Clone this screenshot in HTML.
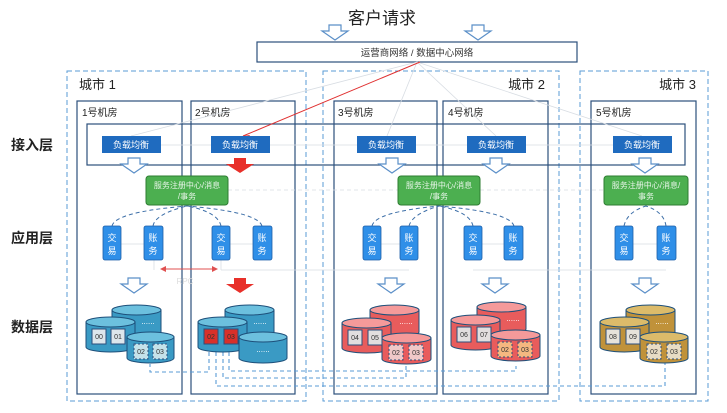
<!DOCTYPE html>
<html><head><meta charset="utf-8"><style>
html,body{margin:0;padding:0;background:#fff;}
svg{display:block;font-family:"Liberation Sans","Noto Sans CJK SC",sans-serif;}
</style></head><body>
<svg width="727" height="413" viewBox="0 0 727 413" xmlns="http://www.w3.org/2000/svg">
<defs>
<path id="ha" d="M-6 0 h12 v6 h7 l-13 9 l-13 -9 h7 z" fill="#fff" stroke="#5b8fc8" stroke-width="1.2"/>
<path id="ra" d="M-6 0 h12 v6 h8 l-14 9 l-14 -9 h8 z" fill="#e8302a"/>
</defs>
<text x="382" y="24" font-size="17" text-anchor="middle" fill="#222">客户请求</text>
<use href="#ha" x="335" y="25"/><use href="#ha" x="478" y="25"/>
<rect x="257" y="42" width="320" height="20" fill="#fff" stroke="#2c4f7c" stroke-width="1.2"/>
<text x="417" y="56" font-size="9.5" text-anchor="middle" fill="#333">运营商网络 / 数据中心网络</text>
<!-- cities -->
<g fill="none" stroke="#5a9bd5" stroke-width="1" stroke-dasharray="5,3">
<rect x="67" y="71" width="239" height="330"/>
<rect x="323" y="71" width="236" height="330"/>
<rect x="580" y="71" width="128" height="330"/>
</g>
<text x="79" y="89" font-size="13" fill="#222">城市 1</text>
<text x="545" y="89" font-size="13" fill="#222" text-anchor="end">城市 2</text>
<text x="696" y="89" font-size="13" fill="#222" text-anchor="end">城市 3</text>
<!-- rooms -->
<g fill="none" stroke="#2c4f7c" stroke-width="1.2">
<rect x="77" y="101" width="105" height="293"/>
<rect x="191" y="101" width="104" height="293"/>
<rect x="334" y="101" width="103" height="293"/>
<rect x="443" y="101" width="105" height="293"/>
<rect x="591" y="101" width="105" height="293"/>
<rect x="87" y="124" width="598" height="41"/>
</g>
<g font-size="10" fill="#222">
<text x="82" y="116">1号机房</text><text x="195" y="116">2号机房</text>
<text x="338" y="116">3号机房</text><text x="448" y="116">4号机房</text><text x="596" y="116">5号机房</text>
</g>
<!-- faint lines -->
<g stroke="#d8dde3" stroke-width="0.8" fill="none">
<line x1="417" y1="62" x2="131" y2="136"/>
<line x1="417" y1="62" x2="387" y2="136"/>
<line x1="417" y1="62" x2="496" y2="136"/>
<line x1="417" y1="62" x2="642" y2="136"/>
<line x1="161" y1="145" x2="211" y2="145"/><line x1="270" y1="145" x2="357" y2="145"/>
<line x1="416" y1="145" x2="467" y2="145"/><line x1="526" y1="145" x2="613" y2="145"/>
<line x1="228" y1="190" x2="398" y2="190" stroke-dasharray="4,3"/>
<line x1="480" y1="190" x2="604" y2="190" stroke-dasharray="4,3"/>
<line x1="121" y1="244" x2="144" y2="244"/><line x1="230" y1="244" x2="253" y2="244"/>
<line x1="381" y1="244" x2="400" y2="244"/><line x1="482" y1="244" x2="504" y2="244"/>
<line x1="633" y1="244" x2="657" y2="244"/>
<line x1="154" y1="260" x2="154" y2="270"/><line x1="221" y1="260" x2="221" y2="270"/>
<line x1="221" y1="270" x2="409" y2="270"/><line x1="473" y1="270" x2="666" y2="270"/>
</g>
<line x1="420" y1="62" x2="243" y2="136" stroke="#e03030" stroke-width="1"/>
<path d="M243 136 l7 -1 l-3 5z" fill="#e03030"/>
<!-- LB -->
<g fill="#1f6bbf">
<rect x="102" y="136" width="59" height="17"/><rect x="211" y="136" width="59" height="17"/>
<rect x="357" y="136" width="59" height="17"/><rect x="467" y="136" width="59" height="17"/>
<rect x="613" y="136" width="59" height="17"/>
</g>
<g font-size="9" fill="#fff" text-anchor="middle">
<text x="131" y="148">负载均衡</text><text x="240" y="148">负载均衡</text>
<text x="386" y="148">负载均衡</text><text x="496" y="148">负载均衡</text><text x="642" y="148">负载均衡</text>
</g>
<use href="#ha" x="134" y="158"/><use href="#ra" x="240" y="158"/>
<use href="#ha" x="392" y="158"/><use href="#ha" x="496" y="158"/><use href="#ha" x="645" y="158"/>
<!-- green -->
<g fill="#4caf50" stroke="#2e7d32" stroke-width="1">
<rect x="146" y="176" width="82" height="29" rx="3"/>
<rect x="398" y="176" width="82" height="29" rx="3"/>
<rect x="604" y="176" width="84" height="29" rx="3"/>
</g>
<g font-size="8" fill="#e8f5e9" text-anchor="middle">
<text x="187" y="188">服务注册中心/消息</text><text x="187" y="199">/事务</text>
<text x="439" y="188">服务注册中心/消息</text><text x="439" y="199">/事务</text>
<text x="646" y="188">服务注册中心/消息/</text><text x="646" y="199">事务</text>
</g>
<!-- dashed curves -->
<g fill="none" stroke="#3d6fa8" stroke-width="1" stroke-dasharray="4,3">
<path d="M112 226 Q115 212 187 206"/><path d="M153 226 Q155 214 187 206"/>
<path d="M221 226 Q218 212 187 206"/><path d="M262 226 Q258 212 187 206"/>
<path d="M372 226 Q375 212 439 206"/><path d="M409 226 Q412 214 439 206"/>
<path d="M473 226 Q470 212 439 206"/><path d="M514 226 Q510 212 439 206"/>
<path d="M624 226 Q627 212 646 206"/><path d="M666 226 Q664 212 646 206"/>
</g>
<!-- services -->
<g fill="#2f8fe8" stroke="#1e5fa8" stroke-width="0.8">
<rect x="103" y="226" width="18" height="34" rx="2"/><rect x="144" y="226" width="19" height="34" rx="2"/>
<rect x="212" y="226" width="18" height="34" rx="2"/><rect x="253" y="226" width="19" height="34" rx="2"/>
<rect x="363" y="226" width="18" height="34" rx="2"/><rect x="400" y="226" width="18" height="34" rx="2"/>
<rect x="464" y="226" width="18" height="34" rx="2"/><rect x="504" y="226" width="19" height="34" rx="2"/>
<rect x="615" y="226" width="18" height="34" rx="2"/><rect x="657" y="226" width="19" height="34" rx="2"/>
</g>
<g font-size="9" fill="#fff" text-anchor="middle">
<text x="112" y="241">交</text><text x="112" y="254">易</text><text x="153" y="241">账</text><text x="153" y="254">务</text>
<text x="221" y="241">交</text><text x="221" y="254">易</text><text x="262" y="241">账</text><text x="262" y="254">务</text>
<text x="372" y="241">交</text><text x="372" y="254">易</text><text x="409" y="241">账</text><text x="409" y="254">务</text>
<text x="473" y="241">交</text><text x="473" y="254">易</text><text x="513" y="241">账</text><text x="513" y="254">务</text>
<text x="624" y="241">交</text><text x="624" y="254">易</text><text x="666" y="241">账</text><text x="666" y="254">务</text>
</g>
<line x1="164" y1="269" x2="214" y2="269" stroke="#e05050" stroke-width="1"/>
<path d="M160 269 l6 -3 v6z M218 269 l-6 -3 v6z" fill="#e05050"/>
<text x="185" y="284" font-size="8" fill="#ddd" text-anchor="middle">RPC</text>
<use href="#ha" x="134" y="278"/><use href="#ra" x="240" y="278"/>
<use href="#ha" x="391" y="278"/><use href="#ha" x="495" y="278"/><use href="#ha" x="645" y="278"/>
<!-- bottom dashed -->
<g fill="none" stroke="#5a9bd5" stroke-width="1.1" stroke-dasharray="4,3">
<path d="M209 352 V372 H150 V364"/>
<path d="M229 352 V371 H516 V366"/>
<path d="M223 352 V378 H406 V366"/>
<path d="M216 352 V386 H665 V363"/>
</g>
<!-- cylinders -->
<g stroke="#1d4f7a" stroke-width="1">
<!-- room1 blue -->
<path d="M112 310 v22 a24.5 5 0 0 0 49 0 v-22z" fill="#3a9ac4"/><ellipse cx="136.5" cy="310" rx="24.5" ry="5" fill="#6cc0de"/>
<path d="M86 322 v25 a24.5 5 0 0 0 49 0 v-25z" fill="#3a9ac4"/><ellipse cx="110.5" cy="322" rx="24.5" ry="5" fill="#6cc0de"/>
<path d="M127 337 v21 a23.5 5 0 0 0 47 0 v-21z" fill="#3a9ac4"/><ellipse cx="150.5" cy="337" rx="23.5" ry="5" fill="#6cc0de"/>
<!-- room2 blue -->
<path d="M225 310 v22 a24.5 5 0 0 0 49 0 v-22z" fill="#3a9ac4"/><ellipse cx="249.5" cy="310" rx="24.5" ry="5" fill="#6cc0de"/>
<path d="M198 322 v25 a24.5 5 0 0 0 49 0 v-25z" fill="#3a9ac4"/><ellipse cx="222.5" cy="322" rx="24.5" ry="5" fill="#6cc0de"/>
<path d="M239 337 v21 a24 5 0 0 0 48 0 v-21z" fill="#3a9ac4"/><ellipse cx="263" cy="337" rx="24" ry="5" fill="#6cc0de"/>
<!-- room3 red -->
<path d="M370 310 v22 a24.5 5 0 0 0 49 0 v-22z" fill="#e85c5c"/><ellipse cx="394.5" cy="310" rx="24.5" ry="5" fill="#f59a9a"/>
<path d="M342 323 v25 a24.5 5 0 0 0 49 0 v-25z" fill="#e85c5c"/><ellipse cx="366.5" cy="323" rx="24.5" ry="5" fill="#f59a9a"/>
<path d="M382 338 v21 a24.5 5 0 0 0 49 0 v-21z" fill="#e85c5c"/><ellipse cx="406.5" cy="338" rx="24.5" ry="5" fill="#f59a9a"/>
<!-- room4 red -->
<path d="M477 307 v22 a24.5 5 0 0 0 49 0 v-22z" fill="#e85c5c"/><ellipse cx="501.5" cy="307" rx="24.5" ry="5" fill="#f59a9a"/>
<path d="M451 320 v25 a24.5 5 0 0 0 49 0 v-25z" fill="#e85c5c"/><ellipse cx="475.5" cy="320" rx="24.5" ry="5" fill="#f59a9a"/>
<path d="M491 335 v21 a24.5 5 0 0 0 49 0 v-21z" fill="#e85c5c"/><ellipse cx="515.5" cy="335" rx="24.5" ry="5" fill="#f59a9a"/>
<!-- room5 gold -->
<path d="M626 310 v22 a24.5 5 0 0 0 49 0 v-22z" fill="#c0923a"/><ellipse cx="650.5" cy="310" rx="24.5" ry="5" fill="#dcbb6a"/>
<path d="M600 322 v25 a24.5 5 0 0 0 49 0 v-25z" fill="#c0923a"/><ellipse cx="624.5" cy="322" rx="24.5" ry="5" fill="#dcbb6a"/>
<path d="M640 337 v21 a24 5 0 0 0 48 0 v-21z" fill="#c0923a"/><ellipse cx="664" cy="337" rx="24" ry="5" fill="#dcbb6a"/>
</g>
<!-- data boxes -->
<g stroke="#2c4f7c" stroke-width="1">
<rect x="92" y="329" width="14" height="15" fill="#dde6ec"/><rect x="111" y="329" width="14" height="15" fill="#dde6ec"/>
<rect x="204" y="329" width="14" height="15" fill="#d8302a"/><rect x="224" y="329" width="14" height="15" fill="#d8302a"/>
<rect x="348" y="330" width="14" height="15" fill="#e2dede"/><rect x="368" y="330" width="14" height="15" fill="#e2dede"/>
<rect x="457" y="327" width="14" height="15" fill="#e2dede"/><rect x="477" y="327" width="14" height="15" fill="#e2dede"/>
<rect x="606" y="329" width="14" height="15" fill="#e6e2da"/><rect x="626" y="329" width="14" height="15" fill="#e6e2da"/>
</g>
<g stroke="#2c4f7c" stroke-width="1" stroke-dasharray="2,2">
<rect x="134" y="344" width="14" height="15" fill="#c4e2ea"/><rect x="153" y="344" width="14" height="15" fill="#c4e2ea"/>
<rect x="389" y="345" width="14" height="15" fill="#f0c8c8"/><rect x="409" y="345" width="14" height="15" fill="#f0c8c8"/>
<rect x="498" y="342" width="14" height="15" fill="#f5b880"/><rect x="518" y="342" width="14" height="15" fill="#f5b880"/>
<rect x="647" y="344" width="14" height="15" fill="#e8dcc4"/><rect x="667" y="344" width="14" height="15" fill="#e8dcc4"/>
</g>
<g font-size="7" fill="#333" text-anchor="middle">
<text x="99" y="339">00</text><text x="118" y="339">01</text>
<text x="211" y="339">02</text><text x="231" y="339">03</text>
<text x="355" y="340">04</text><text x="375" y="340">05</text>
<text x="464" y="337">06</text><text x="484" y="337">07</text>
<text x="613" y="339">08</text><text x="633" y="339">09</text>
<text x="141" y="354">02</text><text x="160" y="354">03</text>
<text x="396" y="355">02</text><text x="416" y="355">03</text>
<text x="505" y="352">02</text><text x="525" y="352">03</text>
<text x="654" y="354">02</text><text x="674" y="354">03</text>
</g>
<g font-size="8" fill="#fff" text-anchor="middle">
<text x="148" y="324">......</text><text x="260" y="324">......</text><text x="263" y="352">......</text>
<text x="406" y="324">......</text><text x="513" y="321">......</text><text x="662" y="324">......</text>
</g>
<!-- layer labels -->
<g font-size="14" font-weight="bold" fill="#222">
<text x="11" y="150">接入层</text><text x="11" y="243">应用层</text><text x="11" y="332">数据层</text>
</g>
</svg>
</body></html>
